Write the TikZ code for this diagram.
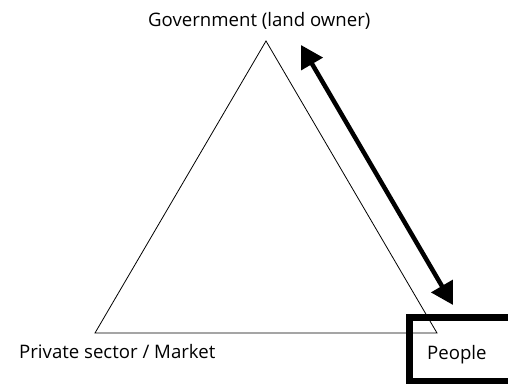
\documentclass[tikz,border=0pt]{standalone}
\usepackage{fontspec}
\setmainfont{Open Sans}
\usetikzlibrary{arrows.meta}
\tikzset{
  lbl/.style={anchor=base west, inner sep=0pt, font=\fontsize{18.6}{21}\selectfont},
  tri/.style={draw=black, line width=0.8pt, line join=miter},
  dbl/.style={draw=black, line width=4.5pt, {Triangle[length=22pt,width=24pt]}-{Triangle[length=22pt,width=24pt]}},
  peoplebox/.style={draw=black, line width=6.5pt}
}
\begin{document}
\begin{tikzpicture}[x=1pt,y=1pt]
\useasboundingbox (0,0) rectangle (508,383);
\begin{scope}
\clip (0,0) rectangle (508,383);
\coordinate (apex) at (266,342);
\coordinate (bl) at (95,50);
\coordinate (br) at (437,50);
\draw[tri] (bl) -- (br) -- (apex) -- cycle;
\coordinate (a1) at (301,338);
\coordinate (a2) at (453,78);
\draw[dbl] (a1) -- (a2);
\coordinate (b1) at (409.5,65.5);
\coordinate (b2) at (512,1.5);
\draw[peoplebox] (b1) rectangle (b2);
\end{scope}
\node[lbl] (gov) at (148,356) {Government (land owner)};
\node[lbl] (priv) at (19,25) {Private sector / Market};
\node[lbl] (people) at (427,24) {People};
\end{tikzpicture}
\end{document}
